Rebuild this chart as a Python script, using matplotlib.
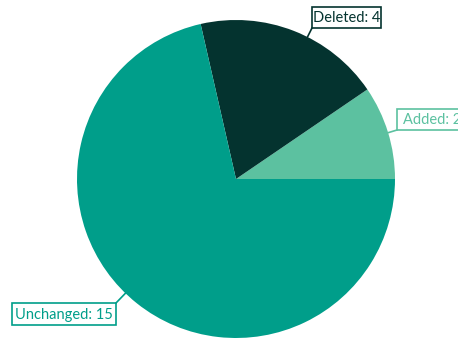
import numpy as np
import matplotlib
matplotlib.use("Agg")
import matplotlib.pyplot as plt
from matplotlib.patches import Rectangle

categories = ["Added", "Deleted", "Unchanged"]
values = [2, 4, 15]
colors = ["#5cc1a0", "#04332f", "#009e8a"]

W, H = 458, 338
fig = plt.figure(figsize=(W / 100, H / 100), dpi=100)
ax = fig.add_axes([0, 0, 1, 1])

cx, cy, r = 236, H - 179, 159
ax.pie(values, colors=colors, startangle=0, counterclock=True,
       center=(cx, cy), radius=r, frame=True,
       wedgeprops=dict(linewidth=0))
ax.set_xlim(0, W)
ax.set_ylim(0, H)
ax.set_aspect("equal")
ax.axis("off")

# label boxes: (left, top, width, height) in pixel space, leader corner
boxes = {
    "Added": ((397, 109, 70, 21), "bl"),
    "Deleted": ((312, 7, 69, 21), "bl"),
    "Unchanged": ((12, 303, 104, 22), "tr"),
}

for cat, val, col in zip(categories, values, colors):
    (left, top, w, h), corner = boxes[cat]
    y0 = H - top - h
    ax.add_patch(Rectangle((left, y0), w, h, facecolor="white",
                           edgecolor=col, linewidth=1.2, zorder=5))
    ax.text(left + w / 2, y0 + h / 2 - 0.5, f"{cat}: {val}", color=col,
            fontsize=10.5, family="Lato", ha="center", va="center",
            zorder=6)
    if corner == "bl":
        px, py = left, y0
    else:
        px, py = left + w, y0 + h
    ang = np.arctan2(py - cy, px - cx)
    ex, ey = cx + r * np.cos(ang), cy + r * np.sin(ang)
    ax.plot([ex, px], [ey, py], color=col, linewidth=1.2, zorder=4)

fig.savefig("out.png", dpi=100)
